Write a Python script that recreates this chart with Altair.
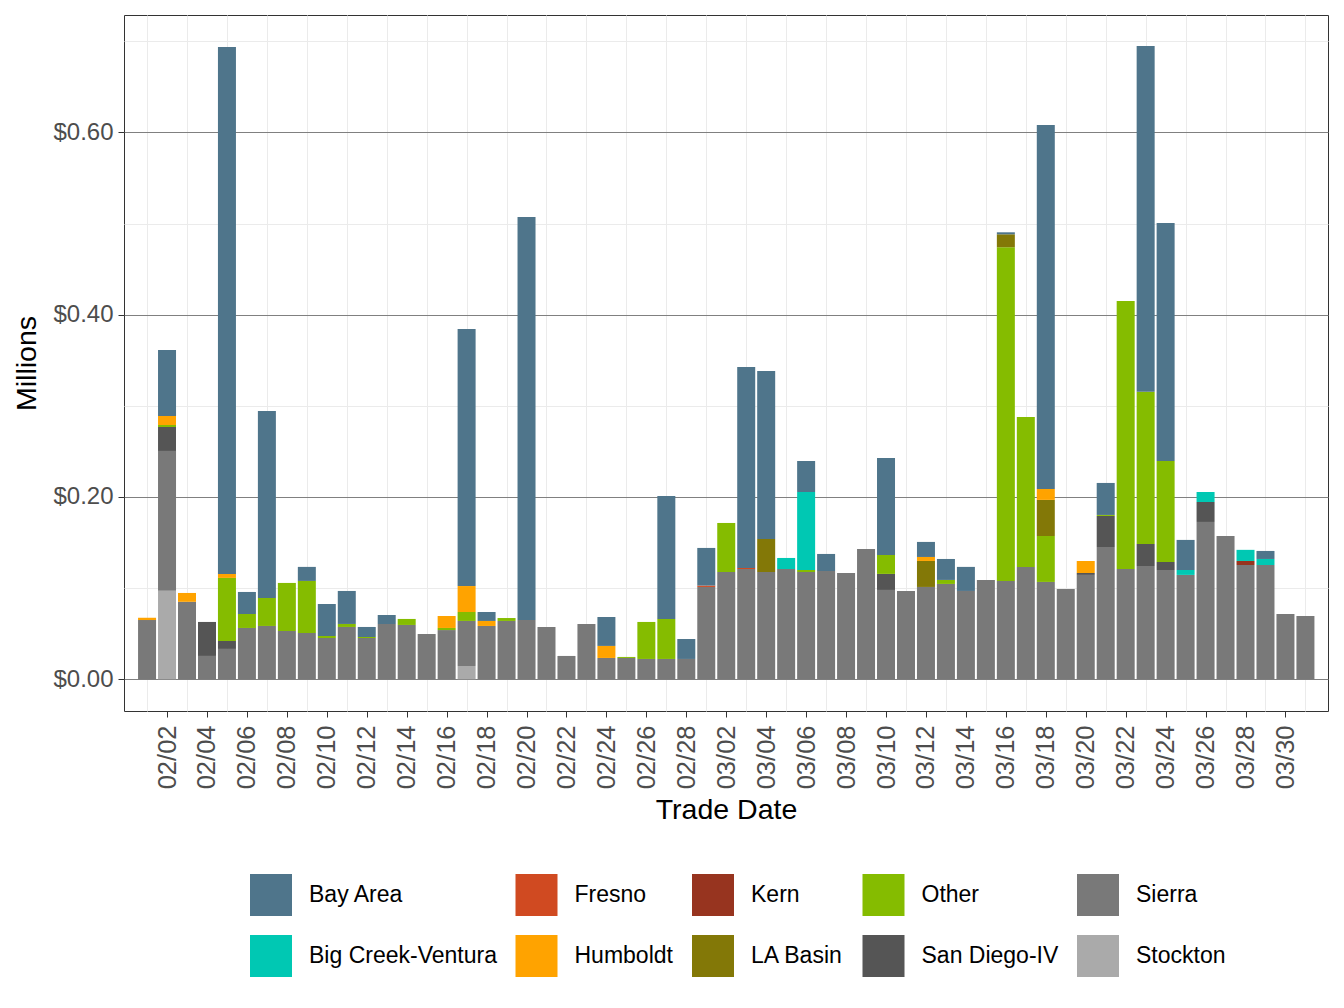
import altair as alt
import pandas as pd

# Trade dates, 1 Feb - 31 Mar
dates = pd.date_range("2023-02-01", "2023-03-31", freq="D").strftime("%Y-%m-%d").tolist()

# Daily values by region, in $ millions (one entry per trade date)
sierra = [0.065, 0.1535, 0.085, 0.0256, 0.0333, 0.0563, 0.0585, 0.053, 0.0508, 0.0453,
          0.0574, 0.0453, 0.0607, 0.0596, 0.0497, 0.054, 0.0494, 0.0585, 0.064, 0.065,
          0.0574, 0.0256, 0.0607, 0.0234, 0.0234, 0.0223, 0.0223, 0.0223, 0.1013, 0.1177,
          0.121, 0.1177, 0.121, 0.1177, 0.1188, 0.1166, 0.143, 0.098, 0.0969, 0.1013,
          0.1046, 0.0969, 0.109, 0.1079, 0.1233, 0.1068, 0.0991, 0.1145, 0.1451, 0.121,
          0.1243, 0.1199, 0.1145, 0.1726, 0.1572, 0.1254, 0.1254, 0.0716, 0.0694]

stockton = {1: 0.097, 16: 0.0146}
san_diego = {1: 0.0263, 3: 0.0373, 4: 0.0088, 37: 0.0176, 47: 0.0021, 48: 0.0341,
             50: 0.0241, 51: 0.0088, 53: 0.0219}
other = {1: 0.0022, 4: 0.0691, 5: 0.0153, 6: 0.0307, 7: 0.0527, 8: 0.0571, 9: 0.0022,
         10: 0.0033, 11: 0.0011, 13: 0.0066, 15: 0.0023, 16: 0.0098, 18: 0.0032,
         24: 0.0011, 25: 0.0406, 26: 0.0439, 29: 0.0538, 33: 0.0022, 37: 0.0208,
         40: 0.0044, 43: 0.3661, 44: 0.1645, 45: 0.0504, 48: 0.0011, 49: 0.294,
         50: 0.167, 51: 0.1108}
la_basin = {31: 0.0362, 39: 0.0285, 43: 0.0142, 45: 0.0396}
kern = {55: 0.0044}
humboldt = {0: 0.0025, 1: 0.0099, 2: 0.0097, 4: 0.0044, 15: 0.0131, 16: 0.0285,
            17: 0.0055, 23: 0.0132, 39: 0.0044, 45: 0.012, 47: 0.0132}
fresno = {28: 0.0015, 30: 0.0011}
big_creek = {32: 0.0121, 33: 0.0856, 52: 0.0054, 53: 0.011, 55: 0.0122, 56: 0.0066}
bay_area = {1: 0.0724, 4: 0.578, 5: 0.0242, 6: 0.2052, 8: 0.0154, 9: 0.0351,
            10: 0.0362, 11: 0.011, 12: 0.0098, 16: 0.282, 17: 0.0098, 19: 0.4422,
            23: 0.0317, 26: 0.1349, 27: 0.0219, 28: 0.0413, 30: 0.2206, 31: 0.1844,
            33: 0.034, 34: 0.0187, 37: 0.1064, 39: 0.0165, 40: 0.023, 41: 0.0264,
            43: 0.0022, 45: 0.3993, 48: 0.0351, 50: 0.3794, 51: 0.2611, 52: 0.033,
            56: 0.0088}

# Stacking order, bottom to top
stack_order = ["Stockton", "Sierra", "San Diego-IV", "Other", "LA Basin", "Kern",
               "Humboldt", "Fresno", "Big Creek-Ventura", "Bay Area"]
series = {
    "Stockton": stockton,
    "Sierra": dict(enumerate(sierra)),
    "San Diego-IV": san_diego,
    "Other": other,
    "LA Basin": la_basin,
    "Kern": kern,
    "Humboldt": humboldt,
    "Fresno": fresno,
    "Big Creek-Ventura": big_creek,
    "Bay Area": bay_area,
}

# Legend order (filled row by row) and colours
legend_regions = ["Bay Area", "Fresno", "Kern", "Other", "Sierra",
                  "Big Creek-Ventura", "Humboldt", "LA Basin", "San Diego-IV", "Stockton"]
legend_colors = ["#4F758B", "#D04A21", "#97341F", "#85BC00", "#797979",
                 "#00C8B3", "#FFA300", "#837807", "#555555", "#AAAAAA"]

# Axis breaks
tick_days = list(range(1, 59, 2))      # labelled every other day
grid_days = list(range(0, 59, 2))      # vertical grid between labels
y_major = [0.0, 0.2, 0.4, 0.6]
y_minor = [0.1, 0.3, 0.5, 0.7]

rows = []
for rank, region in enumerate(stack_order):
    for i, v in series[region].items():
        if v > 0:
            rows.append({"date": dates[i], "region": region, "value": v, "rank": rank})
df = pd.DataFrame(rows)


def utc_day(s):
    y, m, d = (int(p) for p in s.split("-"))
    return alt.DateTime(year=y, month=m, date=d, utc=True)


x_scale = alt.Scale(type="utc",
                    domain=[alt.DateTime(year=2023, month=1, date=31, hours=2, minutes=18, utc=True),
                            alt.DateTime(year=2023, month=3, date=31, hours=21, minutes=7, utc=True)])
y_scale = alt.Scale(domain=[-0.0348, 0.7288], nice=False, zero=False)

FONT = "Liberation Sans"

main_x_axis = alt.Axis(orient="bottom", values=[utc_day(dates[i]) for i in tick_days],
                       labelExpr="utcFormat(datum.value, '%m/%d')",
                       labelAngle=-90, labelAlign="right", labelBaseline="middle",
                       labelFontSize=25.5, labelColor="#4d4d4d", labelPadding=8,
                       tickSize=6, tickColor="#333333", grid=False, domain=False,
                       title="Trade Date", titleFontSize=28.5, titleFontWeight="normal",
                       titleColor="black", titlePadding=7, labelFlush=False,
                       labelOverlap=False)
main_y_axis = alt.Axis(orient="left", values=y_major, format="$.2f", labelFontSize=24,
                       labelColor="#4d4d4d", labelPadding=5, tickSize=6,
                       tickColor="#333333", grid=True, gridColor="#808080",
                       gridWidth=1, domain=False, title="Millions", titleFontSize=28.5,
                       titleFontWeight="normal", titleColor="black", titlePadding=11)

grid_x_axis = alt.Axis(orient="bottom", values=[utc_day(dates[i]) for i in grid_days],
                       labels=False, ticks=False, domain=False, title=None, grid=True,
                       gridColor="#EBEBEB", gridWidth=1)
grid_y_axis = alt.Axis(orient="left", values=y_minor, labels=False, ticks=False,
                       domain=False, title=None, grid=True, gridColor="#EBEBEB",
                       gridWidth=1)

grid_layer = alt.Chart(df).mark_bar(size=18, opacity=0).encode(
    x=alt.X("date:T", scale=x_scale, axis=grid_x_axis),
    y=alt.Y("sum(value):Q", scale=y_scale, axis=grid_y_axis, stack="zero"),
)

bars = alt.Chart(df).mark_bar(size=18).encode(
    x=alt.X("date:T", scale=x_scale, axis=main_x_axis),
    y=alt.Y("value:Q", scale=y_scale, axis=main_y_axis, stack="zero"),
    color=alt.Color("region:N",
                    scale=alt.Scale(domain=legend_regions, range=legend_colors),
                    legend=alt.Legend(orient="none", legendX=126, legendY=859,
                                      direction="horizontal", columns=5, title=None,
                                      symbolType="square", symbolSize=1764,
                                      symbolStrokeWidth=0, symbolOpacity=1,
                                      labelFontSize=23, labelFont=FONT,
                                      labelColor="black", labelOffset=17,
                                      columnPadding=18.5, rowPadding=19, padding=0,
                                      gridAlign="each", labelLimit=0)),
    order=alt.Order("rank:Q", sort="ascending"),
    tooltip=["date:T", "region:N", "value:Q"],
)

chart = (
    alt.layer(grid_layer, bars)
    .resolve_axis(x="independent", y="independent")
    .properties(width=1204, height=696,
                autosize=alt.AutoSizeParams(type="none"),
                padding={"left": 124, "top": 15, "right": 16, "bottom": 297})
    .configure_view(stroke="#333333", strokeWidth=1)
    .configure_axis(labelFont=FONT, titleFont=FONT)
    .configure_legend(labelFont=FONT)
)

chart.save("out.html", embed_options={"renderer": "svg", "actions": False})
